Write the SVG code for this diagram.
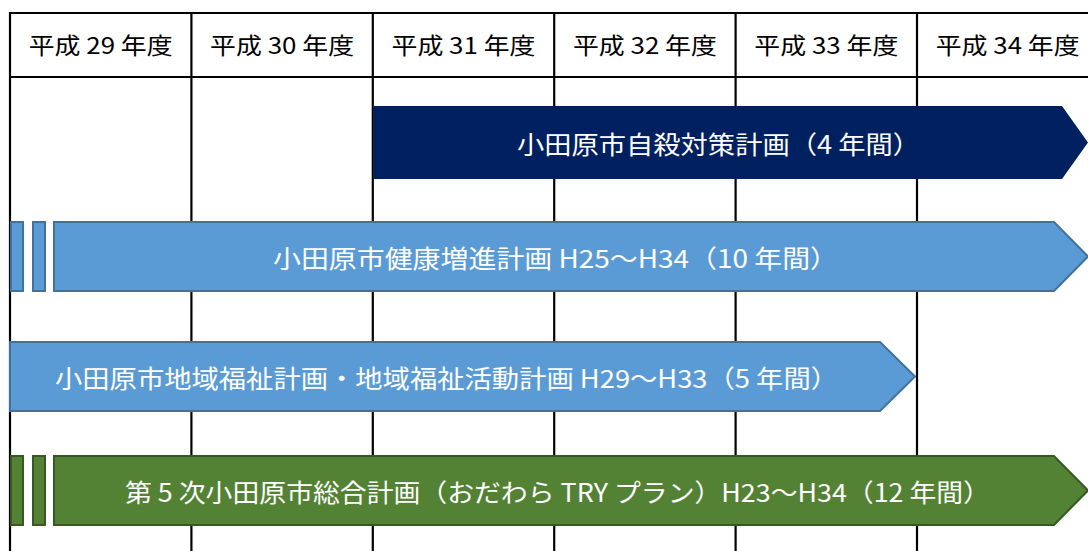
<svg xmlns="http://www.w3.org/2000/svg" width="1088" height="551" viewBox="0 0 1088 551">
<style>
.grid{stroke:#000;stroke-width:2.2;fill:none}
.hd{font-family:"Noto Sans CJK JP","Liberation Sans",sans-serif;font-size:23px;fill:#000;text-anchor:middle}
.bt{font-family:"Noto Sans CJK JP","Liberation Sans",sans-serif;font-size:25px;fill:#fff;text-anchor:middle}
.navy{fill:#002060}
.blue{fill:#5B9BD5;stroke:#41719C;stroke-width:2}
.green{fill:#548235;stroke:#385723;stroke-width:2}
</style>
<rect width="1088" height="551" fill="#fff"/>
<g id="table">
<line class="grid" x1="10" y1="13" x2="1090" y2="13"/>
<line class="grid" x1="10" y1="77" x2="1090" y2="77"/>
<line class="grid" x1="10" y1="12" x2="10" y2="551"/>
<line class="grid" x1="191.4" y1="12" x2="191.4" y2="551"/>
<line class="grid" x1="372.8" y1="12" x2="372.8" y2="551"/>
<line class="grid" x1="554.2" y1="12" x2="554.2" y2="551"/>
<line class="grid" x1="735.6" y1="12" x2="735.6" y2="551"/>
<line class="grid" x1="917" y1="12" x2="917" y2="551"/>
<text class="hd" x="100.7" y="54" textLength="144" lengthAdjust="spacingAndGlyphs">平成 29 年度</text>
<text class="hd" x="282.1" y="54" textLength="144" lengthAdjust="spacingAndGlyphs">平成 30 年度</text>
<text class="hd" x="463.5" y="54" textLength="144" lengthAdjust="spacingAndGlyphs">平成 31 年度</text>
<text class="hd" x="644.9" y="54" textLength="144" lengthAdjust="spacingAndGlyphs">平成 32 年度</text>
<text class="hd" x="826.3" y="54" textLength="144" lengthAdjust="spacingAndGlyphs">平成 33 年度</text>
<text class="hd" x="1007.7" y="54" textLength="144" lengthAdjust="spacingAndGlyphs">平成 34 年度</text>
</g>
<g id="bar-suicide">
<polygon class="navy" points="373,106 1062,106 1088,142.5 1062,179 373,179"/>
<text class="bt" x="718.5" y="154" textLength="403" lengthAdjust="spacingAndGlyphs">小田原市自殺対策計画（4 年間）</text>
</g>
<g id="bar-health">
<rect class="blue" x="11" y="222" width="12" height="69"/>
<rect class="blue" x="33" y="222" width="12" height="69"/>
<polygon class="blue" points="54,222 1054,222 1088,256.5 1054,291 54,291"/>
<text class="bt" x="555.5" y="268" textLength="565" lengthAdjust="spacingAndGlyphs">小田原市健康増進計画 H25～H34（10 年間）</text>
</g>
<g id="bar-welfare">
<polygon class="blue" points="10,342 880,342 915,376.5 880,411 10,411"/>
<text class="bt" x="446.5" y="388" textLength="783" lengthAdjust="spacingAndGlyphs">小田原市地域福祉計画・地域福祉活動計画 H29～H33（5 年間）</text>
</g>
<g id="bar-general">
<rect class="green" x="11" y="456" width="12" height="69"/>
<rect class="green" x="33" y="456" width="12" height="69"/>
<polygon class="green" points="54,456 1054,456 1088,490.5 1054,525 54,525"/>
<text class="bt" x="557.5" y="502" textLength="865" lengthAdjust="spacingAndGlyphs">第 5 次小田原市総合計画（おだわら TRY プラン）H23～H34（12 年間）</text>
</g>
<g id="connectors"/>
</svg>
